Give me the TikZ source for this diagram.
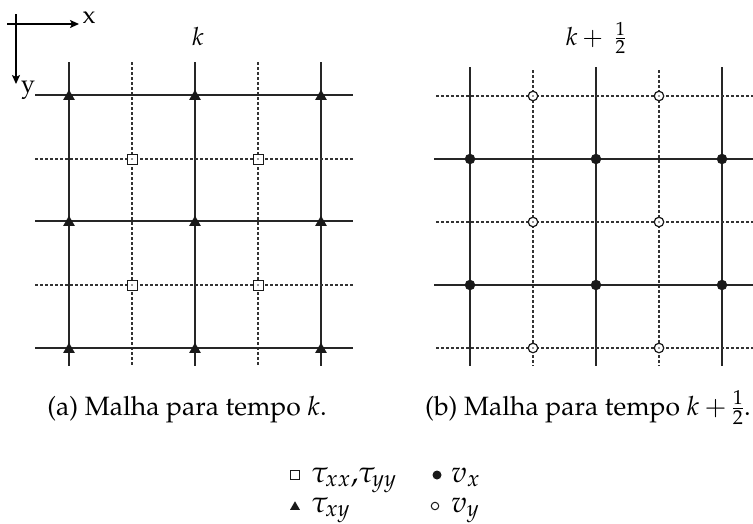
\documentclass[tikz,border=0pt]{standalone}
\usepackage[T1]{fontenc}
\usepackage{mathpazo}
\usetikzlibrary{arrows.meta,shapes.geometric}
\tikzset{
  solidline/.style={line width=1.6pt, black!85},
  dashline/.style={line width=1.1pt, dash pattern=on 3pt off 2pt, black!80},
  axisarrow/.style={line width=2.6pt, -{Stealth[length=9pt,width=8pt,inset=2pt]}},
  trimark/.style={regular polygon, regular polygon sides=3, fill=black!90, inner sep=0pt, minimum size=13.5pt},
  sqmark/.style={rectangle, draw=black!90, fill=white, line width=1pt, inner sep=0pt, minimum size=10pt},
  dotmark/.style={circle, fill=black!90, inner sep=0pt, minimum size=10.5pt},
  ocmark/.style={circle, draw=black!90, fill=white, line width=1.2pt, inner sep=0pt, minimum size=9.5pt},
  cdot/.style={circle, fill=black!80, inner sep=0pt, minimum size=1.6pt},
  captxt/.style={font=\fontsize{26.5}{30}\selectfont, inner sep=0pt, anchor=base},
  toptxt/.style={font=\fontsize{25}{29}\selectfont, inner sep=0pt, anchor=base},
  legtxt/.style={font=\fontsize{30}{34}\selectfont, inner sep=0pt, anchor=base west}
}
\begin{document}
\begin{tikzpicture}[x=1pt,y=-1pt]
\useasboundingbox (0,0) rectangle (753,523);
% axes
\coordinate (o1) at (7,24);
\coordinate (ox) at (79,24);
\coordinate (o2) at (16,14);
\coordinate (oy) at (16,84);
\draw[axisarrow] (o1) -- (ox);
\draw[axisarrow] (o2) -- (oy);
\node[toptxt] (xl) at (89,23) {x};
\node[toptxt] (yl) at (28,92) {y};
% left grid (time k)
\foreach \c in {69,195,321} {
  \coordinate (lvt\c) at (\c,62); \coordinate (lvb\c) at (\c,366);
  \draw[solidline] (lvt\c) -- (lvb\c);}
\foreach \c in {132,258} {
  \coordinate (ldt\c) at (\c,62); \coordinate (ldb\c) at (\c,366);
  \draw[dashline] (ldt\c) -- (ldb\c);}
\foreach \r in {95,221,348} {
  \coordinate (lhl\r) at (35,\r); \coordinate (lhr\r) at (353,\r);
  \draw[solidline] (lhl\r) -- (lhr\r);}
\foreach \r in {159,285} {
  \coordinate (ldl\r) at (35,\r); \coordinate (ldr\r) at (353,\r);
  \draw[dashline] (ldl\r) -- (ldr\r);}
\foreach \c in {69,195,321} \foreach \r in {95,221,348}
  \node[trimark] (tri-\c-\r) at (\c,\r+1.5) {};
\foreach \c in {132,258} \foreach \r in {159,285} {
  \node[sqmark] (sq-\c-\r) at (\c,\r) {};
  \node[cdot] (sqc-\c-\r) at (\c,\r) {};}
\node[toptxt] (klab) at (198,45) {$k$};
% right grid (time k+1/2)
\foreach \c in {470,596,722} {
  \coordinate (rvt\c) at (\c,67); \coordinate (rvb\c) at (\c,366);
  \draw[solidline] (rvt\c) -- (rvb\c);}
\foreach \c in {533,659} {
  \coordinate (rdt\c) at (\c,70); \coordinate (rdb\c) at (\c,366);
  \draw[dashline] (rdt\c) -- (rdb\c);}
\foreach \r in {159,285} {
  \coordinate (rhl\r) at (434,\r); \coordinate (rhr\r) at (753,\r);
  \draw[solidline] (rhl\r) -- (rhr\r);}
\foreach \r in {96,222,348} {
  \coordinate (rdl\r) at (436,\r); \coordinate (rdr\r) at (753,\r);
  \draw[dashline] (rdl\r) -- (rdr\r);}
\foreach \c in {470,596,722} \foreach \r in {159,285}
  \node[dotmark] (dot-\c-\r) at (\c,\r) {};
\foreach \c in {533,659} \foreach \r in {96,222,348} {
  \node[ocmark] (oc-\c-\r) at (\c,\r) {};
  \node[cdot] (occ-\c-\r) at (\c,\r) {};}
\node[toptxt] (khlab) at (596,45) {$k+~\frac{1}{2}$};
% captions
\node[captxt] (capa) at (187,415) {(a) Malha para tempo $k$.};
\node[captxt] (capb) at (588,415) {(b) Malha para tempo $k+\frac{1}{2}$.};
% legend
\node[sqmark, minimum size=9pt, line width=0.9pt] (lsq) at (295,475) {};
\node[legtxt] (lt1) at (311,482) {$\tau_{xx}{,}\tau_{yy}$};
\node[dotmark, minimum size=9pt] (ldot) at (437,475) {};
\node[legtxt] (lt2) at (451,482) {$v_x$};
\node[trimark, minimum size=11.5pt] (ltri) at (295,507) {};
\node[legtxt] (lt3) at (311,512) {$\tau_{xy}$};
\node[ocmark, minimum size=7.5pt, line width=1pt] (loc) at (435,506) {};
\node[legtxt] (lt4) at (451,512) {$v_y$};
\end{tikzpicture}
\end{document}
